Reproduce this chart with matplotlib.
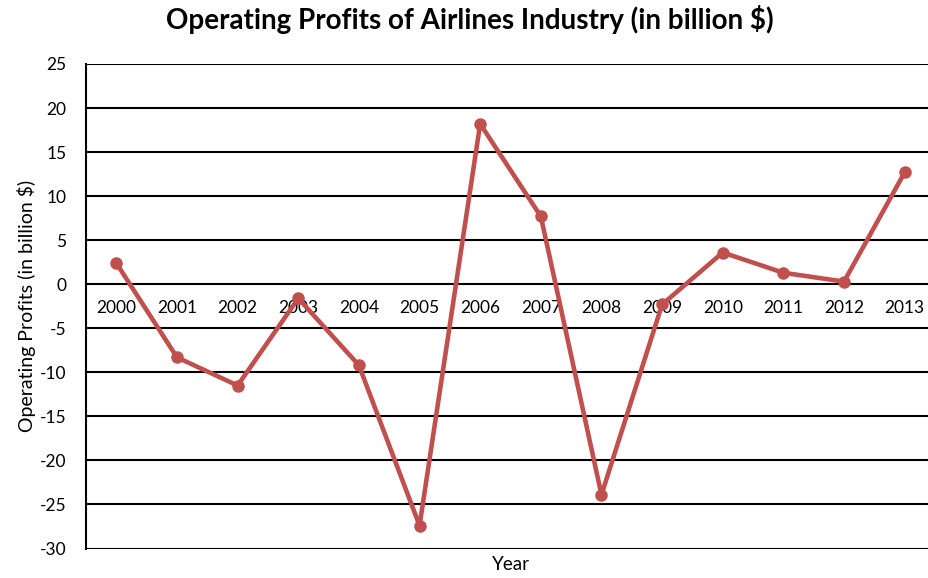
import matplotlib.pyplot as plt

plt.rcParams['font.family'] = ['Lato', 'DejaVu Sans']

years = ['2000', '2001', '2002', '2003', '2004', '2005', '2006',
         '2007', '2008', '2009', '2010', '2011', '2012', '2013']
profits = [2.4, -8.3, -11.5, -1.6, -9.2, -27.4, 18.2,
           7.7, -23.9, -2.3, 3.6, 1.3, 0.3, 12.7]
y_ticks = [25, 20, 15, 10, 5, 0, -5, -10, -15, -20, -25, -30]

fig = plt.figure(figsize=(9.29, 5.78), dpi=100)
ax = fig.add_axes([86 / 929, 1 - 548.5 / 578, 849 / 929, (548.5 - 64) / 578])

x = list(range(len(years)))
ax.plot(x, profits, color='#C0504D', linewidth=3.3, marker='o',
        markersize=8, zorder=3)

ax.set_xlim(-0.5, len(years) - 0.5)
ax.set_ylim(-30, 25)
ax.set_yticks(y_ticks)
ax.set_yticklabels([str(v) for v in y_ticks])
ax.yaxis.grid(True, color='black', linewidth=1.5)
ax.set_axisbelow(True)

# category labels sit on the zero line, like an Excel axis crossing at 0
ax.spines['bottom'].set_position(('data', 0))
ax.spines['bottom'].set_visible(False)
ax.spines['top'].set_visible(False)
ax.spines['right'].set_visible(False)
ax.spines['left'].set_linewidth(1.5)
ax.set_xticks(x)
ax.set_xticklabels(years)
ax.tick_params(axis='x', length=0, pad=11, labelsize=12.5)
ax.tick_params(axis='y', length=0, pad=14, labelsize=12.5)

ax.set_ylabel('Operating Profits (in billion $)', fontsize=14, labelpad=3)
fig.text(511 / 929, 1 - 565 / 578, 'Year', ha='center', va='center',
         fontsize=13.5)
fig.suptitle('Operating Profits of Airlines Industry (in billion $)',
             x=470 / 929, y=1 - 20 / 578, va='center', fontsize=20,
             fontweight='bold')

fig.savefig('out.png', dpi=100)
